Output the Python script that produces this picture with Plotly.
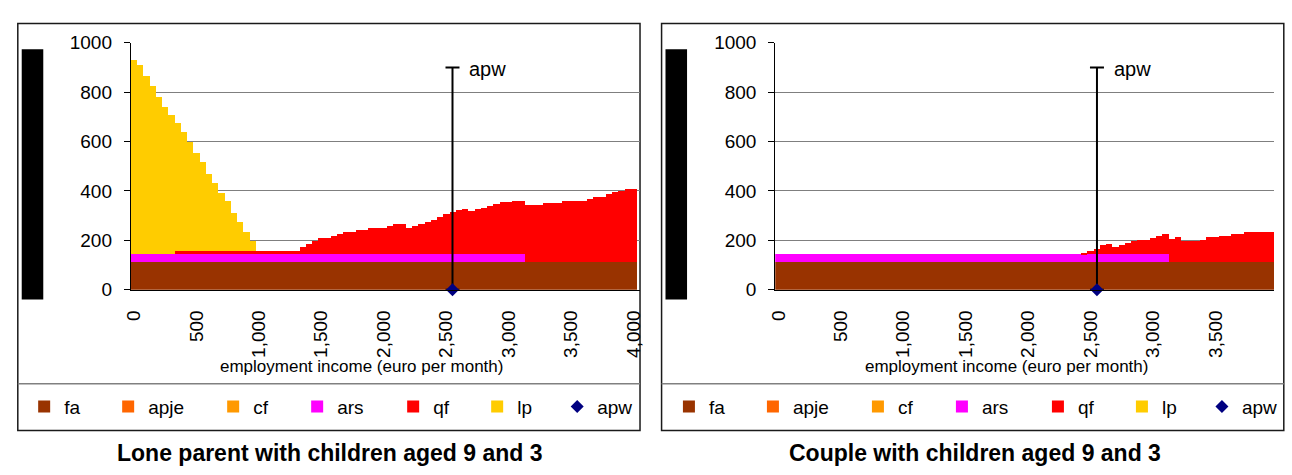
import plotly.graph_objects as go

# ---------------------------------------------------------------------------
# Data: monthly employment income grid (euro) and benefit components
# ---------------------------------------------------------------------------
income = list(range(0, 4001, 50))  # 81 income points

tick_vals = [0, 500, 1000, 1500, 2000, 2500, 3000, 3500, 4000]
tick_text = ["0", "500", "1,000", "1,500", "2,000", "2,500", "3,000", "3,500", "4,000"]

# Lone parent with children aged 9 and 3
fa_lone = [
    115, 115, 115, 115, 115, 115, 115, 115, 115, 115, 115, 115, 115, 115, 115, 115, 115, 115, 115, 115,
    115, 115, 115, 115, 115, 115, 115, 115, 115, 115, 115, 115, 115, 115, 115, 115, 115, 115, 115, 115,
    115, 115, 115, 115, 115, 115, 115, 115, 115, 115, 115, 115, 115, 115, 115, 115, 115, 115, 115, 115,
    115, 115, 115, 115, 115, 115, 115, 115, 115, 115, 115, 115, 115, 115, 115, 115, 115, 115, 115, 115,
    115,
]
apje_lone = [
    0, 0, 0, 0, 0, 0, 0, 0, 0, 0, 0, 0, 0, 0, 0, 0, 0, 0, 0, 0,
    0, 0, 0, 0, 0, 0, 0, 0, 0, 0, 0, 0, 0, 0, 0, 0, 0, 0, 0, 0,
    0, 0, 0, 0, 0, 0, 0, 0, 0, 0, 0, 0, 0, 0, 0, 0, 0, 0, 0, 0,
    0, 0, 0, 0, 0, 0, 0, 0, 0, 0, 0, 0, 0, 0, 0, 0, 0, 0, 0, 0,
    0,
]
cf_lone = [
    0, 0, 0, 0, 0, 0, 0, 0, 0, 0, 0, 0, 0, 0, 0, 0, 0, 0, 0, 0,
    0, 0, 0, 0, 0, 0, 0, 0, 0, 0, 0, 0, 0, 0, 0, 0, 0, 0, 0, 0,
    0, 0, 0, 0, 0, 0, 0, 0, 0, 0, 0, 0, 0, 0, 0, 0, 0, 0, 0, 0,
    0, 0, 0, 0, 0, 0, 0, 0, 0, 0, 0, 0, 0, 0, 0, 0, 0, 0, 0, 0,
    0,
]
ars_lone = [
    29, 29, 29, 29, 29, 29, 29, 29, 29, 29, 29, 29, 29, 29, 29, 29, 29, 29, 29, 29,
    29, 29, 29, 29, 29, 29, 29, 29, 29, 29, 29, 29, 29, 29, 29, 29, 29, 29, 29, 29,
    29, 29, 29, 29, 29, 29, 29, 29, 29, 29, 29, 29, 29, 29, 29, 29, 29, 29, 29, 29,
    29, 29, 29, 0, 0, 0, 0, 0, 0, 0, 0, 0, 0, 0, 0, 0, 0, 0, 0, 0,
    0,
]
qf_lone = [
    0, 0, 0, 0, 0, 0, 0, 13, 13, 13, 13, 13, 13, 13, 13, 13, 13, 13, 13, 13,
    13, 13, 13, 13, 13, 13, 13, 29, 44, 56, 68, 68, 75, 84, 92, 92, 100, 100, 106, 106,
    106, 114, 122, 122, 106, 114, 124, 132, 141, 153, 163, 172, 180, 186, 176, 184, 189, 196, 204, 211,
    211, 218, 218, 229, 229, 229, 236, 236, 236, 244, 244, 247, 247, 255, 263, 263, 272, 280, 287, 293,
    293,
]
lp_lone = [
    788, 769, 721, 683, 637, 599, 563, 520, 481, 444, 399, 360, 314, 275, 236, 202, 155, 118, 79, 40,
    0, 0, 0, 0, 0, 0, 0, 0, 0, 0, 0, 0, 0, 0, 0, 0, 0, 0, 0, 0,
    0, 0, 0, 0, 0, 0, 0, 0, 0, 0, 0, 0, 0, 0, 0, 0, 0, 0, 0, 0,
    0, 0, 0, 0, 0, 0, 0, 0, 0, 0, 0, 0, 0, 0, 0, 0, 0, 0, 0, 0,
    0,
]

# Couple with children aged 9 and 3
fa_couple = [
    115, 115, 115, 115, 115, 115, 115, 115, 115, 115, 115, 115, 115, 115, 115, 115, 115, 115, 115, 115,
    115, 115, 115, 115, 115, 115, 115, 115, 115, 115, 115, 115, 115, 115, 115, 115, 115, 115, 115, 115,
    115, 115, 115, 115, 115, 115, 115, 115, 115, 115, 115, 115, 115, 115, 115, 115, 115, 115, 115, 115,
    115, 115, 115, 115, 115, 115, 115, 115, 115, 115, 115, 115, 115, 115, 115, 115, 115, 115, 115, 115,
    115,
]
apje_couple = [
    0, 0, 0, 0, 0, 0, 0, 0, 0, 0, 0, 0, 0, 0, 0, 0, 0, 0, 0, 0,
    0, 0, 0, 0, 0, 0, 0, 0, 0, 0, 0, 0, 0, 0, 0, 0, 0, 0, 0, 0,
    0, 0, 0, 0, 0, 0, 0, 0, 0, 0, 0, 0, 0, 0, 0, 0, 0, 0, 0, 0,
    0, 0, 0, 0, 0, 0, 0, 0, 0, 0, 0, 0, 0, 0, 0, 0, 0, 0, 0, 0,
    0,
]
cf_couple = [
    0, 0, 0, 0, 0, 0, 0, 0, 0, 0, 0, 0, 0, 0, 0, 0, 0, 0, 0, 0,
    0, 0, 0, 0, 0, 0, 0, 0, 0, 0, 0, 0, 0, 0, 0, 0, 0, 0, 0, 0,
    0, 0, 0, 0, 0, 0, 0, 0, 0, 0, 0, 0, 0, 0, 0, 0, 0, 0, 0, 0,
    0, 0, 0, 0, 0, 0, 0, 0, 0, 0, 0, 0, 0, 0, 0, 0, 0, 0, 0, 0,
    0,
]
ars_couple = [
    29, 29, 29, 29, 29, 29, 29, 29, 29, 29, 29, 29, 29, 29, 29, 29, 29, 29, 29, 29,
    29, 29, 29, 29, 29, 29, 29, 29, 29, 29, 29, 29, 29, 29, 29, 29, 29, 29, 29, 29,
    29, 29, 29, 29, 29, 29, 29, 29, 29, 29, 29, 29, 29, 29, 29, 29, 29, 29, 29, 29,
    29, 29, 29, 0, 0, 0, 0, 0, 0, 0, 0, 0, 0, 0, 0, 0, 0, 0, 0, 0,
    0,
]
qf_couple = [
    0, 0, 0, 0, 0, 0, 0, 0, 0, 0, 0, 0, 0, 0, 0, 0, 0, 0, 0, 0,
    0, 0, 0, 0, 0, 0, 0, 0, 0, 0, 0, 0, 0, 0, 0, 0, 0, 0, 0, 0,
    0, 0, 0, 0, 0, 0, 0, 0, 0, 6, 13, 21, 37, 44, 30, 38, 46, 53, 60, 60,
    68, 76, 84, 90, 98, 82, 82, 82, 89, 98, 98, 105, 105, 113, 113, 121, 121, 121, 121, 121,
    121,
]
lp_couple = [
    0, 0, 0, 0, 0, 0, 0, 0, 0, 0, 0, 0, 0, 0, 0, 0, 0, 0, 0, 0,
    0, 0, 0, 0, 0, 0, 0, 0, 0, 0, 0, 0, 0, 0, 0, 0, 0, 0, 0, 0,
    0, 0, 0, 0, 0, 0, 0, 0, 0, 0, 0, 0, 0, 0, 0, 0, 0, 0, 0, 0,
    0, 0, 0, 0, 0, 0, 0, 0, 0, 0, 0, 0, 0, 0, 0, 0, 0, 0, 0, 0,
    0,
]

# Average production wage marker and the height of its reference bar
apw_income = [2550]
apw_value = [0]
apw_bar = [900]

series_names = ["fa", "apje", "cf", "ars", "qf", "lp"]
series_colors = ["#993300", "#FF6600", "#FF9900", "#FF00FF", "#FF0000", "#FFCC00"]
apw_color = "#000080"

lone_series = [fa_lone, apje_lone, cf_lone, ars_lone, qf_lone, lp_lone]
couple_series = [fa_couple, apje_couple, cf_couple, ars_couple, qf_couple, lp_couple]

panel_titles = ["Lone parent with children aged 9 and 3", "Couple with children aged 9 and 3"]
x_title = "employment income (euro per month)"

# ---------------------------------------------------------------------------
# Layout geometry (pixels)
# ---------------------------------------------------------------------------
W, H = 1292, 475
FONT = "Liberation Sans, Arial, sans-serif"


def px_x(v):
    return v / W


def px_y(v):
    return 1 - v / H


# per-trace legend entry widths, giving the spacing of legend items
legend_widths = [39, 60, 39, 51, 39, 35]
apw_legend_width = 45

fig = go.Figure()

panels = [
    dict(series=lone_series, xaxis="x", yaxis="y", legend="legend"),
    dict(series=couple_series, xaxis="x2", yaxis="y2", legend="legend2"),
]

for panel in panels:
    for name, color, values, lw in zip(series_names, series_colors, panel["series"], legend_widths):
        fig.add_trace(go.Bar(
            x=income, y=values, name=name,
            marker=dict(color=color, line=dict(width=0)),
            xaxis=panel["xaxis"], yaxis=panel["yaxis"],
            legend=panel["legend"], legendwidth=lw,
            hovertemplate=name + ": %{y}<extra></extra>",
        ))
    fig.add_trace(go.Scatter(
        x=apw_income, y=apw_value, name="apw", mode="markers",
        marker=dict(symbol="diamond", size=10, color=apw_color),
        error_y=dict(type="data", symmetric=False, array=apw_bar, arrayminus=[0],
                     color="black", thickness=2, width=7),
        cliponaxis=False,
        xaxis=panel["xaxis"], yaxis=panel["yaxis"],
        legend=panel["legend"], legendwidth=apw_legend_width,
    ))

# plot-area positions
left_y0, right_y0 = 125.3, 783.0
data_end = 641.7
unit = (data_end - left_y0) / 4050.0  # pixels per euro
y_dom = [px_y(292.7), px_y(34.2)]

x_common = dict(
    tickmode="array", tickvals=tick_vals, ticktext=tick_text, tickangle=-90,
    ticks="", showline=True, linecolor="black", linewidth=1,
    showgrid=False, zeroline=False, ticklabelstandoff=12,
    tickfont=dict(family=FONT, size=19, color="black"),
)
y_common = dict(
    range=[0, 1000], dtick=200, showline=True, linecolor="black", linewidth=1,
    ticks="outside", ticklen=6, tickcolor="black", tickwidth=1,
    showgrid=True, gridcolor="#7f7f7f", gridwidth=1, zeroline=False,
    ticklabelstandoff=8,
    tickfont=dict(family=FONT, size=19, color="black"),
    domain=y_dom,
)

fig.update_layout(
    width=W, height=H, autosize=False,
    margin=dict(l=0, r=0, t=0, b=0),
    paper_bgcolor="white", plot_bgcolor="white",
    barmode="stack", bargap=0,
    showlegend=True,
    font=dict(family=FONT, color="black"),
    xaxis=dict(domain=[px_x(left_y0), px_x(645)],
               range=[-25, -25 + (645 - left_y0) / unit], anchor="y", **x_common),
    yaxis=dict(anchor="x", **y_common),
    xaxis2=dict(domain=[px_x(right_y0), 1.0],
                range=[-25, -25 + (W - right_y0) / unit], anchor="y2", **x_common),
    yaxis2=dict(anchor="x2", **y_common),
    legend=dict(orientation="h", x=px_x(16.5), xanchor="left", y=px_y(415), yanchor="middle",
                traceorder="normal", bgcolor="rgba(0,0,0,0)", borderwidth=0,
                font=dict(family=FONT, size=19, color="black")),
    legend2=dict(orientation="h", x=px_x(674.5), xanchor="left", y=px_y(415), yanchor="middle",
                 traceorder="normal", bgcolor="rgba(0,0,0,0)", borderwidth=0,
                 font=dict(family=FONT, size=19, color="black")),
)

# chart frames, legend separators and the axis-title blocks
shapes = []
for x0, x1 in [(10, 645), (667, W + 10)]:
    shapes.append(dict(type="rect", xref="paper", yref="paper",
                       x0=px_x(x0), x1=px_x(x1), y0=px_y(440), y1=px_y(14),
                       line=dict(color="#1a1a1a", width=1.5), layer="below"))
    shapes.append(dict(type="line", xref="paper", yref="paper",
                       x0=px_x(x0), x1=px_x(x1), y0=px_y(391), y1=px_y(391),
                       line=dict(color="#808080", width=1.5)))
for bx0, bx1 in [(14, 36), (671, 693)]:
    shapes.append(dict(type="rect", xref="paper", yref="paper",
                       x0=px_x(bx0), x1=px_x(bx1), y0=px_y(303), y1=px_y(41),
                       fillcolor="black", line=dict(width=0)))
fig.update_layout(shapes=shapes)

annotations = []
for xref, yref in [("x", "y"), ("x2", "y2")]:
    annotations.append(dict(x=apw_income[0], y=apw_bar[0], xref=xref, yref=yref,
                            text="apw", showarrow=False, xanchor="left", yanchor="middle",
                            xshift=15, yshift=-2,
                            font=dict(family=FONT, size=20, color="black")))
for cx, title in [(328.5, panel_titles[0]), (986.5, panel_titles[1])]:
    annotations.append(dict(x=px_x(cx), y=px_y(463.5), xref="paper", yref="paper",
                            text="<b>" + title + "</b>", showarrow=False,
                            xanchor="center", yanchor="middle",
                            font=dict(family=FONT, size=23, color="black")))
for cx in [361, 1019.5]:
    annotations.append(dict(x=px_x(cx), y=px_y(373), xref="paper", yref="paper",
                            text=x_title, showarrow=False,
                            xanchor="center", yanchor="middle",
                            font=dict(family=FONT, size=17, color="black")))
fig.update_layout(annotations=annotations)

fig.write_html("out.html")
